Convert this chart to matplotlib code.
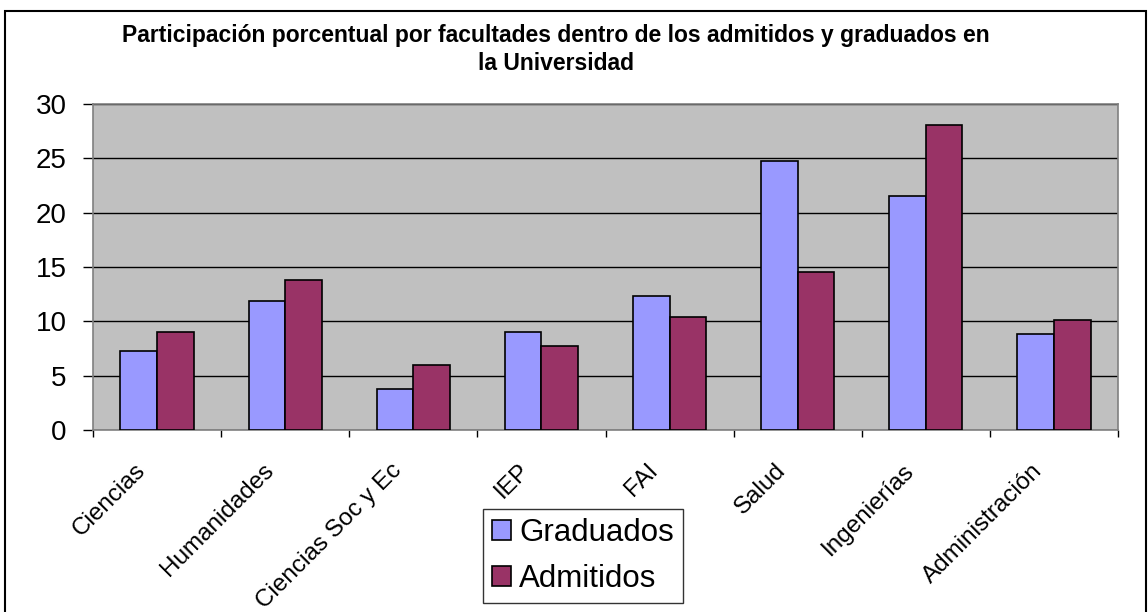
import matplotlib
matplotlib.use("Agg")
import matplotlib.pyplot as plt
import numpy as np
from matplotlib.patches import Rectangle
from matplotlib.transforms import ScaledTranslation

plt.rcParams["font.family"] = ["Liberation Sans", "DejaVu Sans"]

facultades = ["Ciencias", "Humanidades", "Ciencias Soc y Ec", "IEP", "FAI",
              "Salud", "Ingenierías", "Administración"]
graduados = [7.3, 11.9, 3.8, 9.0, 12.3, 24.8, 21.5, 8.8]
admitidos = [9.0, 13.8, 6.0, 7.7, 10.4, 14.5, 28.1, 10.1]
yticks = [0, 5, 10, 15, 20, 25, 30]

W, H = 1148, 612
fig = plt.figure(figsize=(W / 100, H / 100), dpi=100)
ax = fig.add_axes([93 / W, 1 - 430 / H, (1118 - 93) / W, (430 - 104) / H])
ax.set_facecolor("#C0C0C0")

x = np.arange(len(facultades))
w = 1 / 3.5
ax.bar(x - w / 2, graduados, w, color="#9999FF", edgecolor="black",
       linewidth=1.2, label="Graduados", zorder=3)
ax.bar(x + w / 2, admitidos, w, color="#993366", edgecolor="black",
       linewidth=1.2, label="Admitidos", zorder=3)

ax.set_xlim(-0.5, len(facultades) - 0.5)
ax.set_ylim(0, 30)
ax.set_yticks(yticks)
ax.yaxis.grid(True, color="black", linewidth=1.0, zorder=1)
ax.set_axisbelow(True)
for s in ax.spines.values():
    s.set_color("#808080")
    s.set_linewidth(1.2)

ax.tick_params(axis="y", length=7, width=1, color="black", pad=12,
               labelsize=20)
ax.set_xticks(x)
ax.set_xticks(np.arange(len(facultades) + 1) - 0.5, minor=True)
ax.tick_params(axis="x", which="major", length=0, pad=27)
ax.tick_params(axis="x", which="minor", length=5, width=1, color="black")
ax.set_xticklabels(facultades, rotation=45, ha="right", va="center",
                   rotation_mode="anchor", fontsize=17.5)
off = ScaledTranslation(-0.15, 0, fig.dpi_scale_trans)
for lab in ax.get_xticklabels():
    lab.set_transform(lab.get_transform() + off)

leg = fig.legend(loc="upper left", bbox_to_anchor=(483 / W, 1 - 509 / H),
                 fontsize=22.5, frameon=True, fancybox=False, shadow=False,
                 handlelength=0.6, handleheight=0.6, handletextpad=0.25,
                 labelspacing=0.5, borderpad=0.3, borderaxespad=0)
leg.get_frame().set_edgecolor("black")
leg.get_frame().set_linewidth(1.0)

fig.text(556 / W, 1 - 42 / H,
         "Participación porcentual por facultades dentro de los admitidos y graduados en",
         ha="center", va="baseline", fontsize=16.5, fontweight="bold")
fig.text(556 / W, 1 - 70 / H, "la Universidad",
         ha="center", va="baseline", fontsize=16.5, fontweight="bold")

fig.patches.append(Rectangle((5 / W, -0.05), (1146 - 5) / W, 1.05 - 11 / H,
                             transform=fig.transFigure, fill=False,
                             edgecolor="black", linewidth=1.5))

fig.savefig("out.png", dpi=100)
